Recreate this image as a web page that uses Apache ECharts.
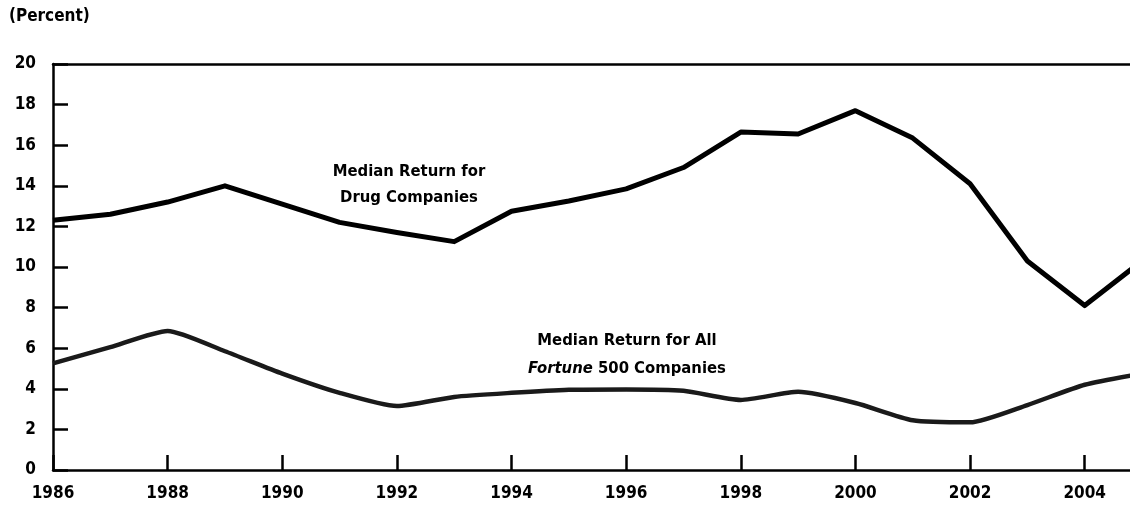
<!DOCTYPE html>
<html>
<head>
<meta charset="utf-8">
<script src="https://cdn.jsdelivr.net/npm/echarts@6/dist/echarts.min.js"></script>
<style>
html,body{margin:0;padding:0;background:#fff;}
#chart{width:1130px;height:510px;}
</style>
</head>
<body>
<div id="chart"></div>
<script>
var years = ['1986','1987','1988','1989','1990','1991','1992','1993','1994','1995','1996','1997','1998','1999','2000','2001','2002','2003','2004','2005'];
var drugReturns = [12.3,12.6,13.2,14.0,13.1,12.2,11.7,11.25,12.75,13.25,13.85,14.9,16.65,16.55,17.7,16.35,14.1,10.3,8.1,10.3];
var fortuneReturns = [5.25,6.05,6.85,5.85,4.75,3.8,3.15,3.6,3.8,3.95,3.97,3.9,3.45,3.85,3.3,2.45,2.35,3.2,4.2,4.75];
var yTicks = [0,20,2];
var unitLabel = '(Percent)';
var drugLabel = ['Median Return for','Drug Companies'];
var fortuneLabel = ['Median Return for All','{i|Fortune} 500 Companies'];

var FONT = '"DejaVu Sans Condensed","Liberation Sans Narrow","DejaVu Sans",sans-serif';
var chart = echarts.init(document.getElementById('chart'), null, {renderer:'canvas'});
chart.setOption({
  animation:false,
  backgroundColor:'#fff',
  grid:{left:53,width:1089,top:64,bottom:40,containLabel:false,outerBoundsMode:'none'},
  xAxis:[{
    type:'category',
    data:years,
    boundaryGap:false,
    axisLine:{show:true,lineStyle:{color:'#000',width:2.5}},
    axisTick:{show:true,inside:true,length:15,interval:1,lineStyle:{color:'#000',width:2.5}},
    axisLabel:{interval:1,color:'#000',fontFamily:FONT,fontWeight:'bold',fontSize:17,margin:15},
    splitLine:{show:false}
  },{
    type:'category',
    data:years,
    position:'top',
    boundaryGap:false,
    axisLine:{show:true,lineStyle:{color:'#000',width:2.5}},
    axisTick:{show:false},
    axisLabel:{show:false},
    splitLine:{show:false}
  }],
  yAxis:{
    type:'value',
    min:yTicks[0],max:yTicks[1],interval:yTicks[2],
    axisLine:{show:true,lineStyle:{color:'#000',width:2.5}},
    axisTick:{show:true,inside:true,length:15,lineStyle:{color:'#000',width:2.5}},
    axisLabel:{color:'#000',fontFamily:FONT,fontWeight:'bold',fontSize:17,margin:17},
    splitLine:{show:false}
  },
  series:[{
    type:'line',
    data:drugReturns,
    symbol:'none',
    lineStyle:{color:'#000',width:5,join:'round'},
    z:3
  },{
    type:'line',
    data:fortuneReturns,
    symbol:'none',
    smooth:0.2,
    lineStyle:{color:'#1a1a1a',width:4.5},
    z:3
  }],
  graphic:[
    {type:'text',left:9,top:8,style:{text:unitLabel,font:'bold 17px '+FONT,fill:'#000'}},
    {type:'text',x:409,y:185,style:{text:drugLabel.join('\n'),font:'bold 16.5px '+FONT,fill:'#000',align:'center',verticalAlign:'middle',lineHeight:26}},
    {type:'text',x:627,y:355,style:{text:fortuneLabel.join('\n'),font:'bold 16.5px '+FONT,fill:'#000',align:'center',verticalAlign:'middle',lineHeight:28,
      rich:{i:{fontStyle:'italic',fontWeight:'bold',fontSize:16.5,fontFamily:FONT}}}}
  ]
});
</script>
</body>
</html>
